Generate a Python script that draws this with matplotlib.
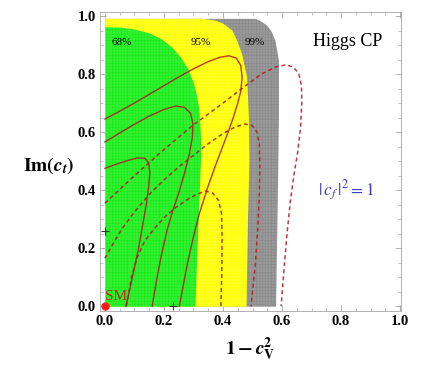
import numpy as np
import matplotlib.pyplot as plt
from matplotlib.ticker import MultipleLocator

plt.rcParams['font.family'] = ['Liberation Serif', 'DejaVu Serif']
plt.rcParams['mathtext.fontset'] = 'stix'

# confidence regions: right edge (1-cV^2) as a function of Im(ct)
green_y = [0.0, 0.2, 0.4, 0.55, 0.62, 0.68, 0.73, 0.775, 0.82, 0.86, 0.895, 0.922, 0.942, 0.955, 0.962, 0.963]
green_x = [0.305, 0.312, 0.32, 0.325, 0.322, 0.318, 0.31, 0.298, 0.28, 0.255, 0.225, 0.19, 0.15, 0.10, 0.05, 0.0]
yellow_y = [0.0, 0.3, 0.5, 0.66, 0.79, 0.871, 0.92, 0.952, 0.975, 0.986, 0.992, 0.992]
yellow_x = [0.478, 0.483, 0.488, 0.486, 0.48, 0.463, 0.445, 0.43, 0.40, 0.373, 0.33, 0.0]
gray_y = [0.0, 0.3, 0.66, 0.848, 0.917, 0.95, 0.969, 0.985, 0.992, 0.992]
gray_x = [0.578, 0.583, 0.588, 0.588, 0.576, 0.562, 0.548, 0.525, 0.508, 0.0]

# solid contours
solA_x = [0, 0.05, 0.10, 0.15, 0.20, 0.25, 0.30, 0.35, 0.39, 0.42, 0.445, 0.46, 0.465, 0.46, 0.45, 0.435, 0.41, 0.38, 0.35, 0.32, 0.30, 0.28, 0.265, 0.252]
solA_y = [0.645, 0.672, 0.70, 0.73, 0.76, 0.79, 0.818, 0.843, 0.858, 0.863, 0.855, 0.83, 0.79, 0.74, 0.70, 0.65, 0.58, 0.50, 0.415, 0.32, 0.24, 0.15, 0.07, 0.0]
solB_x = [0, 0.05, 0.10, 0.15, 0.20, 0.24, 0.27, 0.29, 0.298, 0.296, 0.285, 0.27, 0.25, 0.23, 0.21, 0.19, 0.175, 0.16]
solB_y = [0.566, 0.597, 0.627, 0.655, 0.678, 0.69, 0.685, 0.665, 0.63, 0.58, 0.52, 0.46, 0.39, 0.33, 0.26, 0.17, 0.09, 0.0]
solC_x = [0, 0.04, 0.08, 0.11, 0.135, 0.148, 0.152, 0.148, 0.14, 0.128, 0.112, 0.095, 0.08, 0.071]
solC_y = [0.475, 0.49, 0.503, 0.511, 0.51, 0.495, 0.46, 0.41, 0.35, 0.28, 0.19, 0.11, 0.04, 0.0]

# dashed contours
dshP_x = [0, 0.1, 0.2, 0.3, 0.4, 0.47, 0.53, 0.58, 0.615, 0.64, 0.657, 0.666, 0.667, 0.663, 0.653, 0.64, 0.628, 0.617, 0.607, 0.597]
dshP_y = [0.355, 0.45, 0.54, 0.625, 0.70, 0.755, 0.80, 0.825, 0.832, 0.823, 0.80, 0.76, 0.70, 0.62, 0.53, 0.45, 0.36, 0.25, 0.13, 0.0]
dsh2_x = [0, 0.03, 0.06, 0.10, 0.15, 0.2, 0.25, 0.30, 0.35, 0.40, 0.44, 0.475, 0.50, 0.515, 0.523, 0.525, 0.523, 0.518, 0.51, 0.495]
dsh2_y = [0.165, 0.22, 0.27, 0.325, 0.385, 0.435, 0.48, 0.52, 0.56, 0.595, 0.617, 0.628, 0.622, 0.60, 0.56, 0.48, 0.38, 0.27, 0.15, 0.0]
dsh3_x = [0.072, 0.08, 0.09, 0.11, 0.135, 0.165, 0.20, 0.24, 0.28, 0.31, 0.34, 0.365, 0.385, 0.395, 0.397, 0.396, 0.393]
dsh3_y = [0.0, 0.04, 0.10, 0.17, 0.225, 0.265, 0.305, 0.34, 0.368, 0.385, 0.397, 0.39, 0.365, 0.32, 0.24, 0.12, 0.0]

xticks = [0.0, 0.2, 0.4, 0.6, 0.8, 1.0]
yticks = [0.0, 0.2, 0.4, 0.6, 0.8, 1.0]

fig = plt.figure(figsize=(4.27, 3.74), dpi=100)
ax = fig.add_axes([0.234, 0.168, 0.705, 0.80])

ax.fill_betweenx(gray_y, 0, gray_x, color='#888888', lw=0, zorder=1)
ax.fill_betweenx(yellow_y, 0, yellow_x, color='#ffff00', lw=0, zorder=2)
ax.fill_betweenx(green_y, 0, green_x, color='#12ec12', lw=0, zorder=3)

# fine white mesh like the original
for v in np.arange(0, 1.0, 0.01):
    ax.axvline(v, color='white', lw=0.35, alpha=0.3, zorder=4)
    ax.axhline(v, color='white', lw=0.35, alpha=0.3, zorder=4)

lc = '#b4141e'
for xs, ys in [(solA_x, solA_y), (solB_x, solB_y), (solC_x, solC_y)]:
    ax.plot(xs, ys, color=lc, lw=1.0, alpha=0.85, zorder=5)
for xs, ys in [(dshP_x, dshP_y), (dsh2_x, dsh2_y), (dsh3_x, dsh3_y)]:
    ax.plot(xs, ys, color=lc, lw=1.1, alpha=0.85, ls=(0, (2.6, 2.0)), zorder=5)

ax.plot([0], [0], 'o', color='#ff1a1a', ms=5, zorder=7, clip_on=False)
ax.plot([0, 0.232], [0.26, 0], '+', color='#204020', ms=6, mew=0.8, zorder=7, clip_on=False)

ax.text(0.0, 0.022, 'SM', color='#c0281e', fontsize=11, zorder=8)
ax.text(0.057, 0.91, '68%', fontsize=8, ha='center', va='center', zorder=8)
ax.text(0.325, 0.91, '95%', fontsize=8, ha='center', va='center', zorder=8)
ax.text(0.508, 0.91, '99%', fontsize=8, ha='center', va='center', zorder=8)
ax.text(0.822, 0.912, 'Higgs CP', fontsize=13, ha='center', va='center', zorder=8)
ax.text(0.817, 0.40, r'$|\,c_f\,|^2 = 1$', fontsize=12.5, color='#3c3cc8', ha='center', va='center', zorder=8)

ax.set_xlim(-0.017, 1.003)
ax.set_ylim(-0.017, 1.014)
ax.set_xticks(xticks)
ax.set_yticks(yticks)
ax.set_xticklabels(['%.1f' % t for t in xticks], fontweight='bold', fontsize=10.5)
ax.set_yticklabels(['%.1f' % t for t in yticks], fontweight='bold', fontsize=10.5)
ax.xaxis.set_minor_locator(MultipleLocator(0.05))
ax.yaxis.set_minor_locator(MultipleLocator(0.05))
ax.tick_params(which='both', direction='in', top=True, right=True, color='#a0a0a0')
ax.tick_params(which='major', length=4, width=0.6, pad=3)
ax.tick_params(which='minor', length=2, width=0.5)
for s in ax.spines.values():
    s.set_color('#b0b0b0')
    s.set_linewidth(0.7)

ax.set_xlabel(r'$\mathbf{1-}\boldsymbol{c}_{\mathbf{V}}^{\mathbf{2}}$', fontsize=14, labelpad=5)
ax.set_ylabel(r'$\mathbf{Im(}\boldsymbol{c}_{\boldsymbol{t}}\mathbf{)}$', fontsize=14, rotation=0, va='center')
ax.yaxis.set_label_coords(-0.17, 0.485)

fig.savefig('out.png', dpi=100)
